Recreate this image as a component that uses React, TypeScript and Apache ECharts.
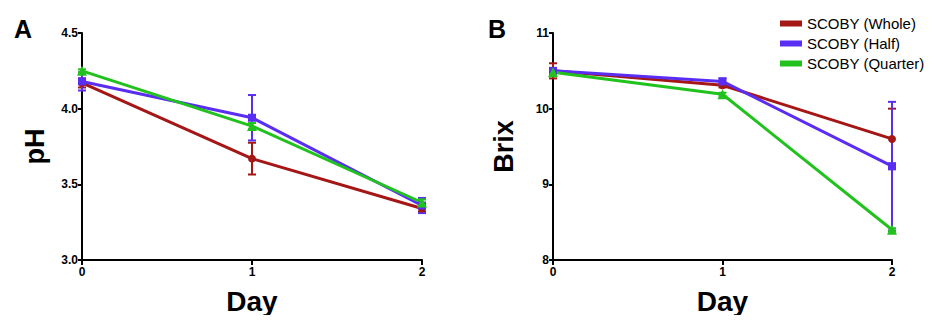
import React, { useEffect, useRef } from "react";
import * as echarts from "echarts";

const days = [0, 1, 2];
const seriesNames = ["SCOBY (Whole)", "SCOBY (Half)", "SCOBY (Quarter)"];
const phWhole = [4.17, 3.67, 3.34];
const phHalf = [4.18, 3.94, 3.36];
const phQuarter = [4.25, 3.885, 3.38];
const phWholeErr = [0.03, 0.105, 0.02];
const phHalfErr = [0.06, 0.15, 0.05];
const phQuarterErr = [0.01, 0.02, 0.02];
const brixWhole = [10.5, 10.31, 9.6];
const brixHalf = [10.5, 10.36, 9.24];
const brixQuarter = [10.48, 10.19, 8.4];
const brixWholeErr = [0.1, 0.03, 0.4];
const brixHalfErr = [0.02, 0.04, 0.85];
const brixQuarterErr = [0.01, 0.02, 0.02];
const phTicks = [3.0, 3.5, 4.0, 4.5];
const brixTicks = [8, 9, 10, 11];

const colors = ["#a51616", "#5a2ef2", "#22c21e"];
const symbols = ["circle", "rect", "triangle"];
const FONT = "Liberation Sans, Arial, sans-serif";

export default function App() {
  const ref = useRef<HTMLDivElement>(null);
  useEffect(() => {
    if (!ref.current) return;
    const chart = echarts.init(ref.current, null, { renderer: "svg" });

    const errSeries = (vals: number[], errs: number[], idx: number, axis: number) => ({
      type: "custom",
      xAxisIndex: axis,
      yAxisIndex: axis,
      silent: true,
      clip: false,
      z: 1,
      data: days.map((d, i) => [d, vals[i], errs[i]]),
      renderItem: (params: any, api: any) => {
        const x = api.value(0);
        const y = api.value(1);
        const e = api.value(2);
        const top = api.coord([x, y + e]);
        const bot = api.coord([x, y - e]);
        const w = 4;
        const style = { stroke: colors[idx], lineWidth: 2 };
        return {
          type: "group",
          children: [
            { type: "line", shape: { x1: top[0], y1: top[1], x2: bot[0], y2: bot[1] }, style },
            { type: "line", shape: { x1: top[0] - w, y1: top[1], x2: top[0] + w, y2: top[1] }, style },
            { type: "line", shape: { x1: bot[0] - w, y1: bot[1], x2: bot[0] + w, y2: bot[1] }, style },
          ],
        };
      },
    });

    const lineSeries = (name: string, vals: number[], idx: number, axis: number) => ({
      type: "line",
      name,
      xAxisIndex: axis,
      yAxisIndex: axis,
      data: days.map((d, i) => [d, vals[i]]),
      symbol: symbols[idx],
      symbolSize: idx === 2 ? 10 : 8,
      clip: false,
      z: 3,
      lineStyle: { color: colors[idx], width: 3 },
      itemStyle: { color: colors[idx] },
    });

    const xAxis = (gi: number) => ({
      type: "value",
      gridIndex: gi,
      min: 0,
      max: 2,
      interval: 1,
      name: "Day",
      nameLocation: "middle",
      nameGap: 27,
      nameTextStyle: { fontFamily: FONT, fontWeight: "bold", fontSize: 28, color: "#000" },
      axisLine: { show: true, lineStyle: { color: "#000", width: 2 } },
      axisTick: { show: true, length: 5, lineStyle: { color: "#000", width: 2 } },
      axisLabel: { fontFamily: FONT, fontWeight: "bold", fontSize: 12, color: "#000", margin: 6 },
      splitLine: { show: false },
    });

    const yAxis = (gi: number, name: string, ticks: number[], gap: number, dec: number) => ({
      type: "value",
      gridIndex: gi,
      min: ticks[0],
      max: ticks[ticks.length - 1],
      interval: ticks[1] - ticks[0],
      name,
      nameLocation: "middle",
      nameGap: gap,
      nameTextStyle: { fontFamily: FONT, fontWeight: "bold", fontSize: 27, color: "#000" },
      axisLine: { show: true, lineStyle: { color: "#000", width: 2 } },
      axisTick: { show: true, length: 4, lineStyle: { color: "#000", width: 2 } },
      axisLabel: {
        fontFamily: FONT,
        fontWeight: "bold",
        fontSize: 12,
        color: "#000",
        margin: 4,
        formatter: (v: number) => v.toFixed(dec),
      },
      splitLine: { show: false },
    });

    chart.setOption({
      animation: false,
      backgroundColor: "#fff",
      grid: [
        { left: 82, right: 521, top: 33, bottom: 63 },
        { left: 553, right: 51, top: 33, bottom: 63 },
      ],
      xAxis: [xAxis(0), xAxis(1)],
      yAxis: [yAxis(0, "pH", phTicks, 34, 1), yAxis(1, "Brix", brixTicks, 36, 0)],
      legend: {
        data: seriesNames,
        orient: "vertical",
        left: 775,
        top: 11,
        itemWidth: 22,
        itemHeight: 6,
        itemGap: 5,
        icon: "rect",
        textStyle: { fontFamily: FONT, fontSize: 15, color: "#000" },
      },
      graphic: [
        { type: "text", left: 14, top: 16, style: { text: "A", font: `bold 25px ${FONT}`, fill: "#000" } },
        { type: "text", left: 488, top: 16, style: { text: "B", font: `bold 25px ${FONT}`, fill: "#000" } },
      ],
      series: [
        errSeries(phWhole, phWholeErr, 0, 0),
        errSeries(phHalf, phHalfErr, 1, 0),
        errSeries(phQuarter, phQuarterErr, 2, 0),
        errSeries(brixWhole, brixWholeErr, 0, 1),
        errSeries(brixHalf, brixHalfErr, 1, 1),
        errSeries(brixQuarter, brixQuarterErr, 2, 1),
        lineSeries(seriesNames[0], phWhole, 0, 0),
        lineSeries(seriesNames[1], phHalf, 1, 0),
        lineSeries(seriesNames[2], phQuarter, 2, 0),
        lineSeries(seriesNames[0], brixWhole, 0, 1),
        lineSeries(seriesNames[1], brixHalf, 1, 1),
        lineSeries(seriesNames[2], brixQuarter, 2, 1),
      ],
    });
    return () => chart.dispose();
  }, []);
  return <div ref={ref} style={{ width: 943, height: 323, margin: -8 }} />;
}
